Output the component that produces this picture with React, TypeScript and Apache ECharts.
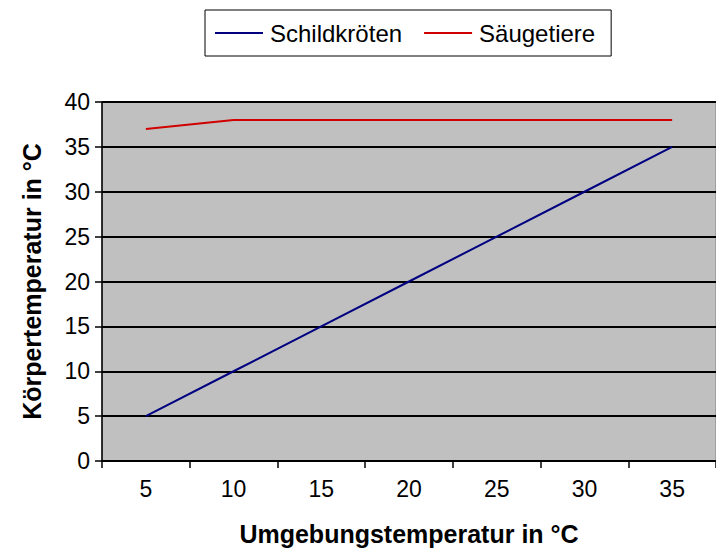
import React, { useEffect, useRef } from "react";
import * as echarts from "echarts";

const categories = ["5", "10", "15", "20", "25", "30", "35"];
const schildkroeten = [5, 10, 15, 20, 25, 30, 35];
const saeugetiere = [37, 38, 38, 38, 38, 38, 38];
const seriesNames = ["Schildkröten", "Säugetiere"];
const xTitle = "Umgebungstemperatur in °C";
const yTitle = "Körpertemperatur in °C";

const FONT = "'Liberation Sans', Arial, sans-serif";

export default function App() {
  const ref = useRef<HTMLDivElement>(null);
  useEffect(() => {
    if (!ref.current) return;
    const chart = echarts.init(ref.current, undefined, { renderer: "svg" });
    chart.setOption({
      animation: false,
      backgroundColor: "#ffffff",
      textStyle: { fontFamily: FONT },
      legend: {
        left: 205,
        top: 10,
        padding: [11, 16, 11, 10],
        itemGap: 22,
        itemWidth: 48,
        itemHeight: 2,
        icon: "rect",
        borderColor: "#000000",
        borderWidth: 1,
        backgroundColor: "#ffffff",
        textStyle: { fontFamily: FONT, fontSize: 24, color: "#000000", padding: [0, 0, 0, 2] },
        data: seriesNames,
      },
      grid: {
        left: 102,
        top: 102,
        width: 618,
        height: 359,
        show: true,
        backgroundColor: "#C0C0C0",
        borderColor: "#808080",
        borderWidth: 1,
        containLabel: false,
      },
      xAxis: {
        type: "category",
        data: categories,
        boundaryGap: true,
        name: xTitle,
        nameLocation: "middle",
        nameGap: 60,
        nameTextStyle: { fontFamily: FONT, fontSize: 25, fontWeight: "bold", color: "#000000" },
        axisLine: { show: true, lineStyle: { color: "#000000", width: 1.5 } },
        axisTick: { show: true, alignWithLabel: false, length: 7, lineStyle: { color: "#000000", width: 1.5 } },
        axisLabel: { fontFamily: FONT, fontSize: 23, color: "#000000", margin: 16 },
        splitLine: { show: false },
      },
      yAxis: {
        type: "value",
        min: 0,
        max: 40,
        interval: 5,
        name: yTitle,
        nameLocation: "middle",
        nameGap: 58,
        nameTextStyle: { fontFamily: FONT, fontSize: 25, fontWeight: "bold", color: "#000000" },
        axisLine: { show: true, lineStyle: { color: "#000000", width: 1.5 } },
        axisTick: { show: true, length: 7, lineStyle: { color: "#000000", width: 1.5 } },
        axisLabel: { fontFamily: FONT, fontSize: 23, color: "#000000", margin: 12 },
        splitLine: { show: true, lineStyle: { color: "#000000", width: 1.8 } },
      },
      series: [
        {
          name: seriesNames[0],
          type: "line",
          data: schildkroeten,
          symbol: "none",
          showSymbol: false,
          lineStyle: { color: "#000080", width: 2 },
          itemStyle: { color: "#000080" },
        },
        {
          name: seriesNames[1],
          type: "line",
          data: saeugetiere,
          symbol: "none",
          showSymbol: false,
          lineStyle: { color: "#D00000", width: 2 },
          itemStyle: { color: "#D00000" },
        },
      ],
    });
    return () => chart.dispose();
  }, []);
  return (
    <div
      ref={ref}
      style={{ position: "fixed", left: 0, top: 0, width: 716, height: 558, overflow: "hidden", background: "#fff" }}
    />
  );
}
